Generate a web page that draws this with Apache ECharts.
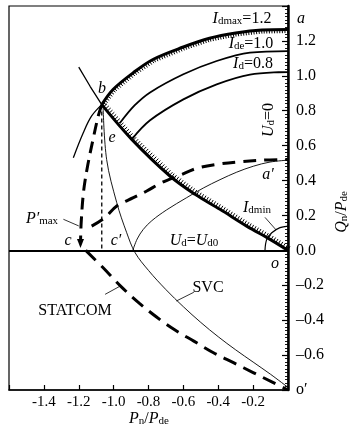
<!DOCTYPE html>
<html><head><meta charset="utf-8">
<script src="https://cdn.jsdelivr.net/npm/echarts@6/dist/echarts.min.js"></script>
<style>html,body{margin:0;padding:0;background:#fff}#c{width:353px;height:434px}</style>
</head><body><div id="c"></div>
<script>
// ---- tick labels ----
const xTickLabels = {'-1.4':'-1.4','-1.2':'-1.2','-1':'-1.0','-0.8':'-0.8','-0.6':'-0.6','-0.4':'-0.4','-0.2':'-0.2'};
const yTickLabels = {'-0.8':'o\u2032','-0.6':'\u20130.6','-0.4':'\u20130.4','-0.2':'\u20130.2','0':'0.0','0.2':'0.2','0.4':'0.4','0.6':'0.6','0.8':'0.8','1':'1.0','1.2':'1.2'};

// ---- curves: [Pn/Pde, Qn/Pde] ----
const bPoint = [-1.068, 0.835];
const idmaxThin = [[-1.231,0.531],[-1.174,0.674],[-1.126,0.770],[-1.068,0.835]];
const idmaxThick = [[-1.068,0.835],[-1.002,0.923],[-0.887,1.018],[-0.772,1.095],[-0.6,1.165],[-0.45,1.215],[-0.3,1.245],[-0.15,1.262],[0,1.265]];
const ideArc = [[-0.965,0.728],[-0.88,0.83],[-0.791,0.905],[-0.6,1.009],[-0.409,1.085],[-0.218,1.133],[0,1.142]];
const idArc = [[-0.896,0.636],[-0.791,0.745],[-0.6,0.865],[-0.409,0.951],[-0.218,1.007],[0,1.022]];
const boExt = [[-1.2,1.05],[-1.135,0.94],[-1.068,0.835]];
const boLine = [[-1.068,0.835],[-0.896,0.636],[-0.677,0.426],[-0.533,0.321],[-0.39,0.235],[-0.237,0.139],[-0.103,0.063],[0,0]];
const svcCurve = [[-1.06,0.81],[-1.04,0.52],[-0.982,0.273],[-0.925,0.101],[-0.877,-0.013],[-0.8,-0.115],[-0.7,-0.225],[-0.6,-0.323],[-0.5,-0.413],[-0.4,-0.495],[-0.3,-0.57],[-0.2,-0.64],[-0.1,-0.71],[0,-0.785]];
const ud0Curve = [[-0.89,0.0],[-0.865,0.065],[-0.83,0.12],[-0.781,0.17],[-0.696,0.232],[-0.581,0.302],[-0.486,0.357],[-0.39,0.405],[-0.294,0.448],[-0.199,0.482],[-0.103,0.506],[0,0.517]];
const pmaxCurve = [[-1.068,0.835],[-1.088,0.77],[-1.115,0.65],[-1.148,0.49],[-1.172,0.34],[-1.186,0.16],[-1.19,0.04]];
const upperDashed = [[-1.126,0.139],[-1.049,0.188],[-0.982,0.254],[-0.887,0.302],[-0.81,0.34],[-0.724,0.388],[-0.62,0.43],[-0.524,0.47],[-0.409,0.493],[-0.275,0.508],[-0.142,0.517],[0,0.521]];
const statcomCurve = [[-1.16,0],[-1.06,-0.1],[-0.96,-0.205],[-0.85,-0.305],[-0.75,-0.385],[-0.65,-0.455],[-0.54,-0.52],[-0.43,-0.585],[-0.31,-0.645],[-0.2,-0.7],[-0.09,-0.755],[0,-0.8]];
const idminArc = [[-0.132,0],[-0.122,0.063],[-0.093,0.101],[-0.046,0.13],[0,0.139]];
const leaderPmax = [[-1.288,0.178],[-1.2,0.14]];
const leaderStatcom = [[-1.049,-0.252],[-0.963,-0.205]];
const leaderSvc = [[-0.64,-0.29],[-0.54,-0.24]];
const leaderIdmin = [[-0.132,0.189],[-0.069,0.118]];

const FONT = '"Liberation Serif","Times New Roman",serif';

function line(data, width, opts) {
  return Object.assign({
    type: 'line', data: data, symbol: 'none', silent: true, animation: false,
    smooth: 0.35, z: 3,
    lineStyle: { color: '#000', width: width, type: 'solid' }
  }, opts || {});
}
function dashed(data, width, dash, opts) {
  const s = line(data, width, opts);
  s.lineStyle.type = dash;
  s.lineStyle.cap = 'butt';
  return s;
}
function hatch(points, side, len, step) {
  return {
    type: 'custom', coordinateSystem: 'cartesian2d', data: [[0, 0]], silent: true, animation: false, z: 2,
    renderItem: function (params, api) {
      const px = points.map(p => api.coord(p));
      const children = [];
      let carry = 0;
      for (let i = 0; i < px.length - 1; i++) {
        const x0 = px[i][0], y0 = px[i][1], x1 = px[i + 1][0], y1 = px[i + 1][1];
        const dx = x1 - x0, dy = y1 - y0, L = Math.hypot(dx, dy);
        const nx = -dy / L * side, ny = dx / L * side;
        let t = carry;
        while (t < L) {
          const x = x0 + dx * t / L, y = y0 + dy * t / L;
          children.push({ type: 'line', shape: { x1: x, y1: y, x2: x + nx * len, y2: y + ny * len }, style: { stroke: '#000', lineWidth: 1 } });
          t += step;
        }
        carry = t - L;
      }
      return { type: 'group', children: children };
    }
  };
}

const rich = {
  i: { fontFamily: FONT, fontSize: 16, fontStyle: 'italic', lineHeight: 18, verticalAlign: 'bottom' },
  n: { fontFamily: FONT, fontSize: 16, lineHeight: 18, verticalAlign: 'bottom' },
  s: { fontFamily: FONT, fontSize: 11, lineHeight: 15, verticalAlign: 'bottom' }
};
function txt(x, y, text, align, rot) {
  return {
    type: 'text', x: x, y: y, rotation: rot || 0, silent: true, z: 10,
    style: { text: text, rich: rich, fontFamily: FONT, fontSize: 16, fill: '#000', align: align || 'center', verticalAlign: 'middle' }
  };
}

const chart = echarts.init(document.getElementById('c'), null, { renderer: 'canvas' });
const option = {
  animation: false,
  backgroundColor: '#fff',
  grid: { left: 9, right: 65, top: 6, bottom: 44, show: true, borderColor: '#000', borderWidth: 1.2 },
  xAxis: {
    type: 'value', min: -1.6, max: 0, interval: 0.2,
    splitLine: { show: false },
    axisLine: { onZero: false, lineStyle: { color: '#000', width: 1.6 } },
    axisTick: { inside: true, length: 5, lineStyle: { color: '#000', width: 1.2 } },
    axisLabel: { margin: 5, color: '#000', fontFamily: FONT, fontSize: 15,
      formatter: v => xTickLabels[String(Math.round(v * 10) / 10)] || '' }
  },
  yAxis: {
    type: 'value', position: 'right', min: -0.8, max: 1.4, interval: 0.2,
    splitLine: { show: false },
    axisLine: { onZero: false, lineStyle: { color: '#000', width: 2.5 } },
    axisTick: { inside: true, length: 6, lineStyle: { color: '#000', width: 1.2 } },
    minorTick: { show: true, splitNumber: 10, length: 3, lineStyle: { color: '#000', width: 0.9 } },
    axisLabel: { margin: 8, color: '#000', fontFamily: FONT, fontSize: 16,
      formatter: v => yTickLabels[String(Math.round(v * 10) / 10)] || '' }
  },
  series: [
    line(idmaxThin, 1.3),
    line(idmaxThick, 3),
    hatch(idmaxThick, 1, 3.5, 2.6),
    line(ideArc, 1.8),
    line(idArc, 1.8),
    line(boExt, 1.3, { smooth: 0 }),
    line(boLine, 3),
    hatch(boLine, -1, 4.5, 2.8),
    line(svcCurve, 0.9),
    Object.assign(line(ud0Curve, 0.9), {
      markLine: { silent: true, symbol: 'none', animation: false, label: { show: false },
        lineStyle: { color: '#000', width: 2, type: 'solid' }, data: [{ yAxis: 0 }] }
    }),
    dashed(pmaxCurve.map((p, i) => i === pmaxCurve.length - 1
      ? { value: p, symbol: 'triangle', symbolSize: [7, 9], symbolRotate: 180, itemStyle: { color: '#000' } } : p),
      3, [12, 7], { showSymbol: true }),
    dashed(upperDashed, 3, [13, 8]),
    dashed(statcomCurve, 3, [14, 8]),
    dashed([bPoint, [bPoint[0], 0]], 1.3, [4, 3], { smooth: 0 }),
    line(idminArc, 1.2),
    line(leaderPmax, 0.8, { smooth: 0 }),
    line(leaderStatcom, 0.8, { smooth: 0 }),
    line(leaderSvc, 0.8, { smooth: 0 }),
    line(leaderIdmin, 0.8, { smooth: 0 })
  ],
  graphic: [
    txt(242, 18, '{i|I}{s|dmax}{n|=1.2}'),
    txt(251, 43, '{i|I}{s|de}{n|=1.0}'),
    txt(253, 63, '{i|I}{s|d}{n|=0.8}'),
    txt(297, 18, '{i|a}', 'left'),
    txt(268, 120, '{i|U}{s|d}{n|=0}', 'center', Math.PI / 2),
    txt(268, 174, '{i|a\u2032}'),
    txt(102, 88, '{i|b}'),
    txt(112, 137, '{i|e}'),
    txt(68, 240, '{i|c}'),
    txt(116, 240, '{i|c\u2032}'),
    txt(194, 240, '{i|U}{s|d}{n|=}{i|U}{s|d0}'),
    txt(275, 263, '{i|o}'),
    txt(257, 207, '{i|I}{s|dmin}'),
    txt(208, 287, '{n|SVC}'),
    txt(75, 310, '{n|STATCOM}'),
    txt(42, 218, '{i|P\u2032}{s|max}'),
    txt(149, 418, '{i|P}{s|n}{n|/}{i|P}{s|de}'),
    txt(341, 212, '{i|Q}{s|n}{n|/}{i|P}{s|de}', 'center', Math.PI / 2)
  ]
};
chart.setOption(option);
</script></body></html>
